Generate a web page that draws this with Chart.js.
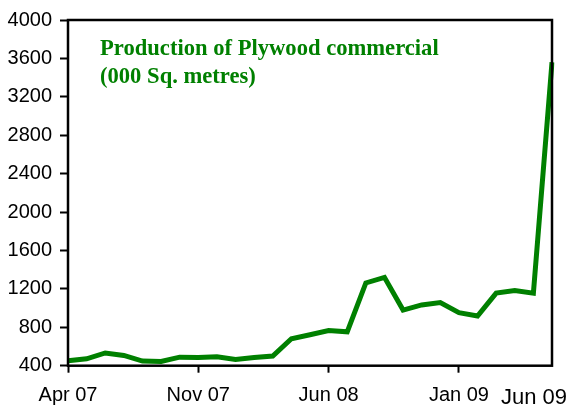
<!DOCTYPE html>
<html>
<head>
<meta charset="utf-8">
<script src="https://cdn.jsdelivr.net/npm/chart.js@4.4.0/dist/chart.umd.min.js"></script>
<style>
  html, body { margin: 0; padding: 0; background: #fff; }
  #wrap { width: 568px; height: 408px; }
</style>
</head>
<body>
<div id="wrap"><canvas id="plywoodChart" width="568" height="408"></canvas></div>
<script>
// ---------- Data ----------
const months = [
  'Apr 07', 'May 07', 'Jun 07', 'Jul 07', 'Aug 07', 'Sep 07', 'Oct 07',
  'Nov 07', 'Dec 07', 'Jan 08', 'Feb 08', 'Mar 08', 'Apr 08', 'May 08',
  'Jun 08', 'Jul 08', 'Aug 08', 'Sep 08', 'Oct 08', 'Nov 08', 'Dec 08',
  'Jan 09', 'Feb 09', 'Mar 09', 'Apr 09', 'May 09', 'Jun 09'
];

// Production, 000 sq. metres
const production = [
  451, 472, 533, 507, 448, 445, 489,
  486, 492, 466, 486, 500, 681, 722,
  766, 753, 1262, 1320, 979, 1033, 1057,
  952, 917, 1156, 1184, 1156, 3560
];

// Months that get a tick and a label on the x axis
const labelledMonths = ['Apr 07', 'Nov 07', 'Jun 08', 'Jan 09'];
const lastLabel = 'Jun 09';

const yMin = 400, yMax = 4000, yStep = 400;
const titleLines = ['Production of Plywood commercial', '(000 Sq. metres)'];

// ---------- Plugins ----------
const green = '#008000';

// box around the plot area
const frame = {
  id: 'frame',
  afterDatasetsDraw(chart) {
    const { ctx, chartArea: a } = chart;
    ctx.save();
    ctx.strokeStyle = '#000';
    ctx.lineWidth = 2.5;
    ctx.strokeRect(a.left, a.top, a.right - a.left, a.bottom - a.top);
    ctx.restore();
  }
};

// title inside the plot + last month label, which sits left of its tick
const texts = {
  id: 'texts',
  afterDraw(chart) {
    const { ctx, chartArea: a } = chart;
    ctx.save();
    ctx.fillStyle = green;
    ctx.font = 'bold 22.6px "Liberation Serif", "Times New Roman", serif';
    ctx.textAlign = 'left';
    ctx.textBaseline = 'alphabetic';
    ctx.fillText(titleLines[0], a.left + 32, 55);
    ctx.fillText(titleLines[1], a.left + 32, 83);

    const xs = chart.scales.x;
    const px = xs.getPixelForValue(months.indexOf(lastLabel));
    ctx.fillStyle = '#000';
    ctx.font = '22px "Liberation Sans", Arial, sans-serif';
    ctx.textAlign = 'right';
    ctx.fillText(lastLabel, px + 15, 404);
    ctx.restore();
  }
};

// ---------- Chart ----------
const ctx = document.getElementById('plywoodChart').getContext('2d');

new Chart(ctx, {
  type: 'line',
  data: {
    labels: months,
    datasets: [{
      label: 'Production of Plywood commercial',
      data: production,
      borderColor: green,
      backgroundColor: green,
      borderWidth: 5,
      tension: 0,
      pointRadius: 0,
      fill: false
    }]
  },
  options: {
    responsive: false,
    animation: false,
    layout: { padding: { top: 18.5, right: 16, left: 0, bottom: 0 } },
    plugins: {
      legend: { display: false },
      tooltip: { enabled: false }
    },
    scales: {
      x: {
        type: 'category',
        offset: false,
        border: { display: false },
        grid: {
          drawOnChartArea: false,
          drawTicks: true,
          tickLength: 7,
          tickWidth: 2,
          tickColor: (c) => labelledMonths.includes(months[c.index]) ? '#000' : 'rgba(0,0,0,0)'
        },
        ticks: {
          autoSkip: false,
          maxRotation: 0,
          padding: 11,
          color: '#000',
          font: { family: '"Liberation Sans", Arial, sans-serif', size: 20 },
          callback: (v, i) => labelledMonths.includes(months[i]) ? months[i] : ''
        },
        afterFit: (s) => { s.height = 42.3; }
      },
      y: {
        min: yMin,
        max: yMax,
        border: { display: false },
        grid: {
          drawOnChartArea: false,
          drawTicks: true,
          tickLength: 8,
          tickWidth: 2,
          tickColor: '#000'
        },
        ticks: {
          stepSize: yStep,
          padding: 8,
          color: '#000',
          font: { family: '"Liberation Sans", Arial, sans-serif', size: 20 },
          callback: (v) => String(v)
        },
        afterFit: (s) => { s.width = 68; }
      }
    }
  },
  plugins: [frame, texts]
});
</script>
</body>
</html>
